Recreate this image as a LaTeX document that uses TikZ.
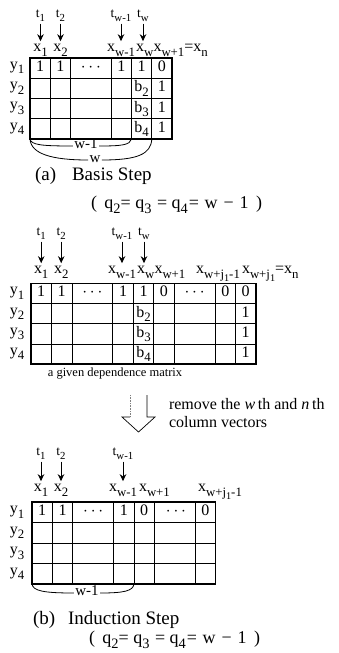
\documentclass[tikz,border=0pt]{standalone}
\usepackage{graphicx}
\usepackage{fontspec}
\setmainfont{Liberation Serif}
\usetikzlibrary{arrows.meta}
\newcommand{\sbs}[1]{\raisebox{-0.28em}{\scalebox{0.8}{#1}}}
\newcommand{\qcond}{(\hspace{3pt} q\sbs{2}= q\sbs{3}\hspace{1pt} = q\sbs{4}\hspace{1pt}= \hspace{1pt}w\hspace{1.5pt} − \hspace{1.5pt}1\hspace{3pt} )}
\begin{document}
\begin{tikzpicture}[x=1pt,y=-1pt,
  every node/.style={inner sep=0pt, outer sep=0pt},
  cell/.style={font=\fontsize{16}{16}\selectfont, text height=0.68em, text depth=0pt},
  rowlab/.style={font=\fontsize{16}{16}\selectfont, text height=0.46em, text depth=0.2em},
  collab/.style={font=\fontsize{16}{16}\selectfont, text height=0.46em, text depth=0.1em},
  toplab/.style={font=\fontsize{13.5}{13.5}\selectfont, text height=0.6em, text depth=0.1em},
  note/.style={font=\fontsize{16}{17}\selectfont, anchor=west},
  caption/.style={font=\fontsize{12.5}{14}\selectfont},
  head/.style={font=\fontsize{19}{19}\selectfont, anchor=west},
  cond/.style={font=\fontsize{18}{18}\selectfont, anchor=west},
  bracelab/.style={font=\fontsize{15}{15}\selectfont, inner sep=1.5pt, text height=0.46em, text depth=0pt},
  pointer/.style={line width=0.9pt, shorten <=5pt, shorten >=6pt, -{Stealth[length=7pt,width=6.5pt]}},
  outerline/.style={line width=1.4pt},
  innerline/.style={line width=0.7pt},
  braceline/.style={line width=0.8pt},
]
\useasboundingbox (0,0) rectangle (339,653);

% ================= (a) Basis step =================
\node[toplab] (At1) at (40.5,15) {t\sbs{1}};
\node[toplab] (At2) at (60.5,15) {t\sbs{2}};
\node[toplab] (Atw1) at (121,15) {t\sbs{w-1}};
\node[toplab] (Atw) at (143,15) {t\sbs{w}};
\node[collab] (Ax1) at (40.5,50) {x\sbs{1}};
\node[collab] (Ax2) at (60.5,50) {x\sbs{2}};
\node[collab] (Axw1) at (121,50) {x\sbs{w-1}};
\node[collab, anchor=west] (Axw) at (136,50) {x\sbs{w}};
\node[collab, anchor=west] (Axn) at (153.5,50) {x\sbs{w+1}=x\sbs{n}};
\draw[pointer] (At1) -- (Ax1);
\draw[pointer] (At2) -- (Ax2);
\draw[pointer] (Atw1) -- (Axw1);
\draw[pointer] (Atw) -- (Atw |- Axw.north);

\draw[innerline] \foreach \x in {50.3,70.6,111.2,131.5,151.8} {(\x,58) -- (\x,139)};
\draw[innerline] \foreach \y in {78.25,98.5,118.75} {(30,\y) -- (172.1,\y)};
\draw[outerline] (30,58) rectangle (172.1,139);

\node[rowlab] (Ay1) at (17,68.1) {y\sbs{1}};
\node[rowlab] (Ay2) at (17,88.4) {y\sbs{2}};
\node[rowlab] (Ay3) at (17,108.6) {y\sbs{3}};
\node[rowlab] (Ay4) at (17,128.9) {y\sbs{4}};

\node[cell] (A11) at (40.15,68.1) {1};
\node[cell] (A12) at (60.45,68.1) {1};
\node[cell] (A13) at (90.9,68.1) {$\cdots$};
\node[cell] (A14) at (121.35,68.1) {1};
\node[cell] (A15) at (141.65,68.1) {1};
\node[cell] (A16) at (161.95,68.1) {0};
\node[cell] (A25) at (141.65,88.4) {b\sbs{2}};
\node[cell] (A35) at (141.65,108.6) {b\sbs{3}};
\node[cell] (A45) at (141.65,128.9) {b\sbs{4}};
\node[cell] (A26) at (161.95,88.4) {1};
\node[cell] (A36) at (161.95,108.6) {1};
\node[cell] (A46) at (161.95,128.9) {1};

\coordinate (Abl) at (30,139);
\coordinate (Ac4) at (131.5,139);
\coordinate (Ac5) at (151.8,139);
\node[bracelab] (Awm1) at (86,146) {w-1};
\node[bracelab] (Aw) at (95,160) {w};
\draw[braceline] (Abl) .. controls (31,145) and (42,146) .. (Awm1.west);
\draw[braceline] (Awm1.east) .. controls (122,146) and (130,145) .. (Ac4);
\draw[braceline] (Abl) .. controls (31,154) and (52,160) .. (Aw.west);
\draw[braceline] (Aw.east) .. controls (138,160) and (151,154) .. (Ac5);

\node[head] (Ahd1) at (35,176) {(a)};
\node[head] (Ahd2) at (72,176) {Basis Step};
\node[cond] (Acond) at (91,205) {\qcond};

% ================= dependence matrix =================
\node[toplab] (Bt1) at (41.2,233) {t\sbs{1}};
\node[toplab] (Bt2) at (61.2,233) {t\sbs{2}};
\node[toplab] (Btw1) at (122,233) {t\sbs{w-1}};
\node[toplab] (Btw) at (144,233) {t\sbs{w}};
\node[collab] (Bx1) at (41.2,272) {x\sbs{1}};
\node[collab] (Bx2) at (61.2,272) {x\sbs{2}};
\node[collab] (Bxw1) at (122,272) {x\sbs{w-1}};
\node[collab, anchor=west] (Bxw) at (137,272) {x\sbs{w}};
\node[collab, anchor=west] (Bxw2) at (154.5,272) {x\sbs{w+1}};
\node[collab] (Bxj) at (218,272) {x\sbs{w+j\sbs{1}-1}};
\node[collab, anchor=west] (Bxn) at (242,272) {x\sbs{w+j\sbs{1}}=x\sbs{n}};
\draw[pointer] (Bt1) -- (Bx1);
\draw[pointer] (Bt2) -- (Bx2);
\draw[pointer] (Btw1) -- (Bxw1);
\draw[pointer] (Btw) -- (Btw |- Bxw.north);

\draw[innerline] \foreach \x in {51.45,71.9,112.8,133.25,153.7,174.15,215.05,235.5} {(\x,283.5) -- (\x,364)};
\draw[innerline] \foreach \y in {303.6,323.75,343.9} {(31,\y) -- (255.95,\y)};
\draw[outerline] (31,283.5) rectangle (255.95,364);

\node[rowlab] (By1) at (17,293.5) {y\sbs{1}};
\node[rowlab] (By2) at (17,313.7) {y\sbs{2}};
\node[rowlab] (By3) at (17,333.8) {y\sbs{3}};
\node[rowlab] (By4) at (17,354) {y\sbs{4}};

\node[cell] (B11) at (41.2,293.5) {1};
\node[cell] (B12) at (61.7,293.5) {1};
\node[cell] (B13) at (92.35,293.5) {$\cdots$};
\node[cell] (B14) at (123,293.5) {1};
\node[cell] (B15) at (143.5,293.5) {1};
\node[cell] (B16) at (163.9,293.5) {0};
\node[cell] (B17) at (194.6,293.5) {$\cdots$};
\node[cell] (B18) at (225.3,293.5) {0};
\node[cell] (B19) at (245.7,293.5) {0};
\node[cell] (B25) at (143.5,313.7) {b\sbs{2}};
\node[cell] (B35) at (143.5,333.8) {b\sbs{3}};
\node[cell] (B45) at (143.5,354) {b\sbs{4}};
\node[cell] (B29) at (245.7,313.7) {1};
\node[cell] (B39) at (245.7,333.8) {1};
\node[cell] (B49) at (245.7,354) {1};

\node[caption] (Bcap) at (115,374) {a given dependence matrix};

% hollow arrow
\coordinate (Sl) at (130,395);
\coordinate (Sr) at (147,395);
\coordinate (Hl) at (122,417);
\coordinate (Hr) at (155,417);
\coordinate (Tip) at (138.5,432);
\draw[line width=0.6pt, gray, densely dotted] (Sl) -- (Sl |- Hl);
\draw[line width=0.7pt] (Sl |- Hl) -- (Hl) -- (Tip) -- (Hr) -- (Sr |- Hr) -- (Sr);
\node[note] (rm1) at (169,404) {remove the \textit{w}\,th and \textit{n}\,th};
\node[note] (rm2) at (169,422) {column vectors};

% ================= (b) Induction step =================
\node[toplab] (Ct1) at (41,453) {t\sbs{1}};
\node[toplab] (Ct2) at (61,453) {t\sbs{2}};
\node[toplab] (Ctw1) at (123,453) {t\sbs{w-1}};
\node[collab] (Cx1) at (41,490) {x\sbs{1}};
\node[collab] (Cx2) at (61,490) {x\sbs{2}};
\node[collab] (Cxw1) at (123,490) {x\sbs{w-1}};
\node[collab, anchor=west] (Cxw2) at (139,490) {x\sbs{w+1}};
\node[collab] (Cxj) at (220,490) {x\sbs{w+j\sbs{1}-1}};
\draw[pointer] (Ct1) -- (Cx1);
\draw[pointer] (Ct2) -- (Cx2);
\draw[pointer] (Ctw1) -- (Cxw1);

\draw[innerline] \foreach \x in {52.4,72.8,113.6,134,154.4,195.2} {(\x,502) -- (\x,584)};
\draw[innerline] \foreach \y in {522.5,543,563.5} {(32,\y) -- (215.6,\y)};
\draw[outerline] (32,502) rectangle (215.6,584);

\node[rowlab] (Cy1) at (17,512.25) {y\sbs{1}};
\node[rowlab] (Cy2) at (17,532.75) {y\sbs{2}};
\node[rowlab] (Cy3) at (17,553.25) {y\sbs{3}};
\node[rowlab] (Cy4) at (17,573.75) {y\sbs{4}};

\node[cell] (C11) at (42.2,512.25) {1};
\node[cell] (C12) at (62.6,512.25) {1};
\node[cell] (C13) at (93.2,512.25) {$\cdots$};
\node[cell] (C14) at (123.8,512.25) {1};
\node[cell] (C15) at (144.2,512.25) {0};
\node[cell] (C16) at (176,512.25) {$\cdots$};
\node[cell] (C17) at (205.4,512.25) {0};

\coordinate (Cbl) at (32,584);
\coordinate (Cc4) at (134,584);
\node[bracelab] (Cwm1) at (87,593) {w-1};
\draw[braceline] (Cbl) .. controls (33,591) and (44,593) .. (Cwm1.west);
\draw[braceline] (Cwm1.east) .. controls (124,593) and (133,591) .. (Cc4);

\node[head] (Chd1) at (33,620) {(b)};
\node[head] (Chd2) at (68,620) {Induction Step};
\node[cond] (Ccond) at (89,640) {\qcond};
\end{tikzpicture}
\end{document}
